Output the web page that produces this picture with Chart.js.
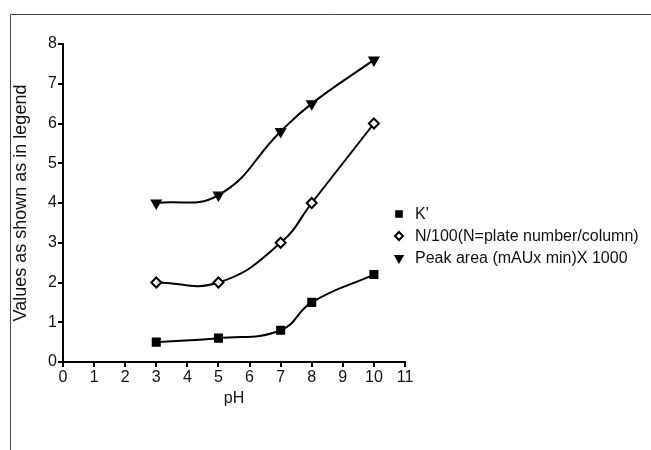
<!DOCTYPE html>
<html>
<head>
<meta charset="utf-8">
<script src="https://cdn.jsdelivr.net/npm/chart.js@4"></script>
<style>
  html, body { margin: 0; padding: 0; background: #fff; }
  #wrap { width: 651px; height: 450px; }
</style>
</head>
<body>
<div id="wrap"><canvas id="phChart" width="651" height="450"></canvas></div>
<script>
// pH values and series
const phValues = [3, 5, 7, 8, 10];
const kPrime = [0.5, 0.6, 0.8, 1.5, 2.2];
const plateNumber = [2.0, 2.0, 3.0, 4.0, 6.0];
const peakArea = [4.0, 4.2, 5.8, 6.5, 7.6];
const seriesLabels = ["K'", 'N/100(N=plate number/column)', 'Peak area (mAUx min)X 1000'];

const FONT = '"Liberation Sans", Arial, sans-serif';

function toPoints(ys) {
    return phValues.map((x, i) => ({ x: x, y: ys[i] }));
}

// frame lines round the figure (left and top)
const framePlugin = {
    id: 'frame',
    beforeDraw(chart) {
        const ctx = chart.ctx;
        ctx.save();
        ctx.strokeStyle = '#444';
        ctx.lineWidth = 1;
        ctx.beginPath();
        ctx.moveTo(10.5, 450);
        ctx.lineTo(10.5, 14.5);
        ctx.lineTo(651, 14.5);
        ctx.stroke();
        ctx.restore();
    }
};

// legend drawn beside the plot
const legendPlugin = {
    id: 'sideLegend',
    afterDraw(chart) {
        const ctx = chart.ctx;
        ctx.save();
        ctx.textBaseline = 'middle';
        chart.data.datasets.forEach((ds, i) => {
            const y = 214 + i * 22;
            ctx.fillStyle = ds.pointBackgroundColor;
            ctx.strokeStyle = '#000';
            ctx.lineWidth = 2;
            Chart.helpers.drawPoint(ctx, {
                pointStyle: ds.pointStyle,
                radius: 4,
                rotation: ds.pointRotation || 0,
                borderWidth: 2
            }, 399, y);
            ctx.font = '16px ' + FONT;
            ctx.fillStyle = '#111';
            ctx.fillText(ds.label, 415, y + 1);
        });
        ctx.restore();
    }
};

const common = {
    showLine: true,
    borderColor: '#000',
    borderWidth: 2,
    tension: 0.45,
    pointBorderColor: '#000',
    pointBorderWidth: 2,
    pointRadius: 5
};

new Chart(document.getElementById('phChart'), {
    type: 'scatter',
    data: {
        datasets: [
            Object.assign({}, common, {
                label: seriesLabels[0],
                data: toPoints(kPrime),
                pointStyle: 'rect',
                pointBackgroundColor: '#000'
            }),
            Object.assign({}, common, {
                label: seriesLabels[1],
                data: toPoints(plateNumber),
                pointStyle: 'rectRot',
                pointBackgroundColor: '#fff'
            }),
            Object.assign({}, common, {
                label: seriesLabels[2],
                data: toPoints(peakArea),
                pointStyle: 'triangle',
                pointRotation: 180,
                pointBackgroundColor: '#000'
            })
        ]
    },
    options: {
        responsive: false,
        animation: false,
        layout: { padding: { left: 10, top: 44, right: 246, bottom: 38 } },
        plugins: {
            legend: { display: false },
            tooltip: { enabled: false }
        },
        scales: {
            x: {
                type: 'linear',
                min: 0,
                max: 11,
                afterFit: s => { s.height = 50; },
                ticks: { stepSize: 1, color: '#111', font: { family: FONT, size: 16 }, padding: 1 },
                grid: { drawOnChartArea: false, drawTicks: true, tickLength: 5, color: '#000', lineWidth: 2 },
                border: { color: '#000', width: 2 },
                title: { display: true, text: 'pH', color: '#111', font: { family: FONT, size: 16 }, padding: { top: 0 } }
            },
            y: {
                min: 0,
                max: 8,
                afterFit: s => { s.width = 53; },
                ticks: { stepSize: 1, color: '#111', font: { family: FONT, size: 16 }, padding: 1 },
                grid: { drawOnChartArea: false, drawTicks: true, tickLength: 5, color: '#000', lineWidth: 2 },
                border: { color: '#000', width: 2 },
                title: { display: true, text: 'Values as shown as in legend', color: '#111', font: { family: FONT, size: 18 }, padding: 0 }
            }
        }
    },
    plugins: [framePlugin, legendPlugin]
});
</script>
</body>
</html>
